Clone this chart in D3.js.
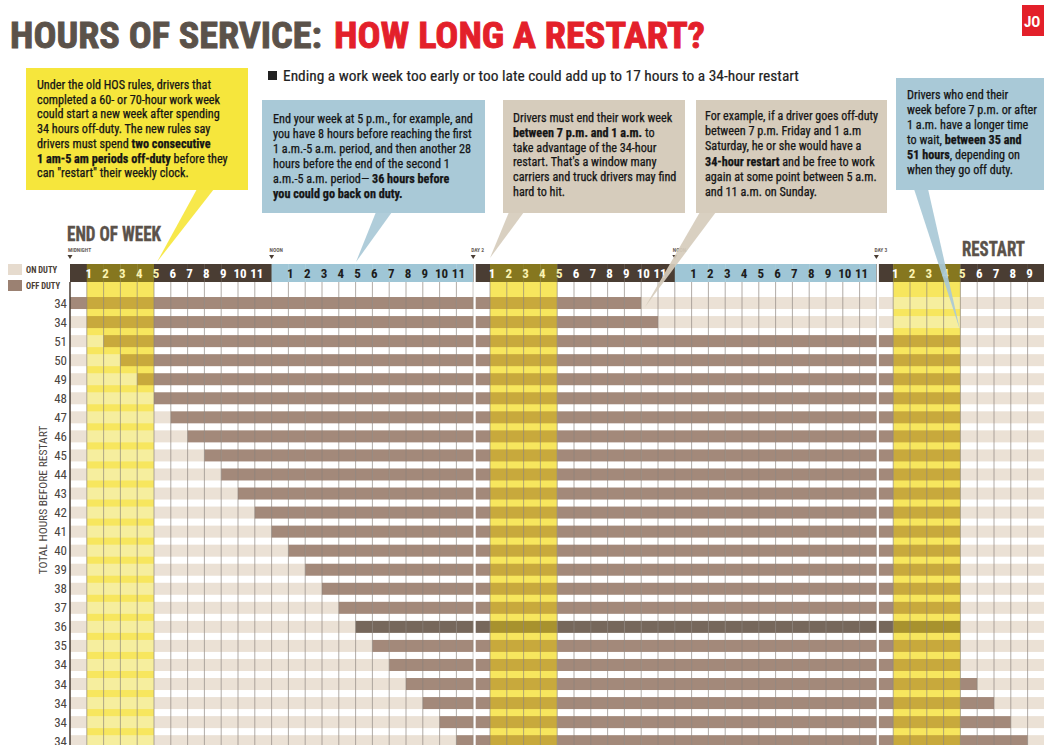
<!DOCTYPE html>
<html>
<head>
<meta charset="utf-8">
<script src="https://cdnjs.cloudflare.com/ajax/libs/d3/7.8.5/d3.min.js"></script>
<style>
  body { margin: 0; background: #fff; }
  svg { display: block; }
  text { font-family: 'Liberation Sans Narrow', 'Roboto Condensed', 'DejaVu Sans Condensed', sans-serif; }
</style>
</head>
<body>
<div id="chart"></div>
<script>
// ---- data ----
const rowHours = [34, 34, 51, 50, 49, 48, 47, 46, 45, 44, 43, 42, 41, 40, 39, 38, 37, 36, 35, 34, 34, 34, 34, 34];
const offDutyStart = [0, 1, 2, 3, 4, 5, 6, 7, 8, 9, 10, 11, 12, 13, 14, 15, 16, 17, 18, 19, 20, 21, 22, 23];
const highlightRow = 17; // the 36-hour example
const restartWindows = [[1, 5], [25, 29], [49, 53]]; // 1 a.m.-5 a.m. periods
const hourColumns = 58;
const dayMarks = [
  {hour: 0, label: "MIDNIGHT"},
  {hour: 12, label: "NOON"},
  {hour: 24, label: "DAY 2"},
  {hour: 36, label: "NOON"},
  {hour: 48, label: "DAY 3"}
];
const callouts = [
  {x: 26, y: 68, w: 222, h: 122, fill: "#f6e63c", tx: 37, ty: 89, lh: 14.7,
   ptr: [[197, 189], [214, 189], [157, 262]],
   lines: ["Under the old HOS rules, drivers that",
           "completed a 60- or 70-hour work week",
           "could start a new week after spending",
           "34 hours off-duty. The new rules say",
           "drivers must spend **two consecutive**",
           "**1 am-5 am periods off-duty** before they",
           "can \"restart\" their weekly clock."]},
  {x: 262, y: 100, w: 223, h: 113, fill: "#a9c9d7", tx: 273, ty: 123, lh: 15,
   ptr: [[376, 212], [392, 212], [356, 262]],
   lines: ["End your week at 5 p.m., for example, and",
           "you have 8 hours before reaching the first",
           "1 a.m.-5 a.m. period, and then another 28",
           "hours before the end of the second 1",
           "a.m.-5 a.m. period\u2014 **36 hours before**",
           "**you could go back on duty.**"]},
  {x: 503, y: 100, w: 182, h: 113, fill: "#d6ccbc", tx: 513, ty: 122, lh: 14.8,
   ptr: [[509, 212], [524, 212], [490, 258]],
   lines: ["Drivers must end their work week",
           "**between 7 p.m. and 1 a.m.** to",
           "take advantage of the 34-hour",
           "restart. That's a window many",
           "carriers and truck drivers may find",
           "hard to hit."]},
  {x: 696, y: 100, w: 191, h: 113, fill: "#d6ccbc", tx: 705, ty: 120, lh: 15.2,
   ptr: [[700, 212], [716, 212], [645, 307]],
   lines: ["For example, if a driver goes off-duty",
           "between 7 p.m. Friday and 1 a.m",
           "Saturday, he or she would have a",
           "**34-hour restart** and be free to work",
           "again at some point between 5 a.m.",
           "and 11 a.m. on Sunday."]},
  {x: 896, y: 78, w: 150, h: 112, fill: "#a9c9d7", tx: 907, ty: 99, lh: 15,
   ptr: [[914, 189], [928, 189], [960, 330]],
   lines: ["Drivers who end their",
           "week before 7 p.m. or after",
           "1 a.m. have a longer time",
           "to wait, **between 35 and**",
           "**51 hours**, depending on",
           "when they go off duty."]}
];

// ---- colours ----
const col = {
  on: "#ebe1d5", onY: "#f6ee9e",
  off: "#a3897a", offY: "#c8a93c",
  hi: "#76675b", hiY: "#a8922e",
  yellowBg: "#f7e65e",
  headDark: "#4a3d33", headOlive: "#86771f", headBlue: "#9fc6d6",
  grid: "#8c847e", text: "#5b524a", red: "#e3202a"
};

const W = 1044, H = 745;
const svg = d3.select("#chart").append("svg").attr("width", W).attr("height", H);

// ---- scales ----
const x = d3.scaleLinear().domain([0, hourColumns]).range([70, 70 + hourColumns * 16.8]);
const y = d3.scaleBand().domain(d3.range(rowHours.length))
  .range([293.5, 293.5 + rowHours.length * 19.05])
  .paddingInner(0.37).paddingOuter(0.185);
const gridTop = 282, gridBottom = H;
const headTop = 264;

const inRestart = c => restartWindows.some(w => c >= w[0] && c < w[1]);

function addLines(g, lines, x0, y0, lh, maxW, size) {
  lines.forEach((line, i) => {
    const t = g.append("text").attr("x", x0).attr("y", y0 + i * lh)
      .attr("font-size", size).attr("fill", "#151515")
      .attr("stroke", "#151515").attr("stroke-width", 0.25);
    line.split("**").forEach((seg, j) => {
      if (seg) t.append("tspan").attr("font-weight", j % 2 ? 700 : 400).text(seg);
    });
    const w = t.node().getComputedTextLength();
    if (w > maxW) t.attr("textLength", maxW).attr("lengthAdjust", "spacingAndGlyphs");
  });
}

// ---- title ----
svg.append("text").attr("x", 10).attr("y", 48).attr("font-size", 37).attr("font-weight", 700)
  .attr("fill", col.text).attr("stroke", col.text).attr("stroke-width", 0.9)
  .attr("textLength", 312).attr("lengthAdjust", "spacingAndGlyphs")
  .text("HOURS OF SERVICE:");
svg.append("text").attr("x", 334).attr("y", 48).attr("font-size", 37).attr("font-weight", 700)
  .attr("fill", col.red).attr("stroke", col.red).attr("stroke-width", 0.9)
  .attr("textLength", 371).attr("lengthAdjust", "spacingAndGlyphs")
  .text("HOW LONG A RESTART?");

// logo corner
svg.append("rect").attr("x", 1022).attr("y", 5).attr("width", 24).attr("height", 31).attr("fill", col.red);
svg.append("text").attr("x", 1024).attr("y", 27).attr("font-size", 15).attr("font-weight", 700)
  .attr("fill", "#fff").text("JO");

// subtitle
svg.append("rect").attr("x", 268).attr("y", 71).attr("width", 9).attr("height", 9).attr("fill", "#222");
const sub = svg.append("text").attr("x", 283).attr("y", 81).attr("font-size", 15.4).attr("fill", "#222")
  .attr("stroke", "#222").attr("stroke-width", 0.2)
  .text("Ending a work week too early or too late could add up to 17 hours to a 34-hour restart");
if (sub.node().getComputedTextLength() > 522) sub.attr("textLength", 522).attr("lengthAdjust", "spacingAndGlyphs");

// ---- grid ----
const grid = svg.append("g");

// yellow 1-5 a.m. columns
grid.selectAll(".ybg").data(restartWindows).join("rect")
  .attr("x", d => x(d[0])).attr("width", d => x(d[1]) - x(d[0]))
  .attr("y", gridTop).attr("height", gridBottom - gridTop)
  .attr("fill", col.yellowBg);

// cells: on duty vs off duty per hour
const cells = [];
rowHours.forEach((hrs, r) => {
  const s = offDutyStart[r], e = s + hrs;
  for (let c = 0; c < hourColumns; c++) {
    cells.push({r, c, off: c >= s && c < e, yel: inRestart(c)});
  }
});
grid.selectAll(".cell").data(cells).join("rect")
  .attr("x", d => x(d.c)).attr("width", d => x(d.c + 1) - x(d.c) + 0.3)
  .attr("y", d => y(d.r)).attr("height", y.bandwidth())
  .attr("fill", d => {
    if (!d.off) return d.yel ? col.onY : col.on;
    if (d.r === highlightRow) return d.yel ? col.hiY : col.hi;
    return d.yel ? col.offY : col.off;
  });

// vertical hour lines
grid.selectAll(".vl").data(d3.range(1, hourColumns)).join("line")
  .attr("x1", d => x(d)).attr("x2", d => x(d))
  .attr("y1", gridTop).attr("y2", gridBottom)
  .attr("stroke", col.grid).attr("stroke-width", 0.9).attr("opacity", 0.75);
grid.append("line").attr("x1", x(0)).attr("x2", x(0)).attr("y1", gridTop).attr("y2", gridBottom)
  .attr("stroke", "#4a3d33").attr("stroke-width", 1.5);

// ---- header band ----
const head = svg.append("g");
head.selectAll(".hc").data(d3.range(hourColumns)).join("rect")
  .attr("x", d => x(d)).attr("width", d => x(d + 1) - x(d) + 0.3)
  .attr("y", headTop).attr("height", gridTop - headTop)
  .attr("fill", d => {
    const h = d % 24;
    if (h >= 12) return col.headBlue;
    return inRestart(d) ? col.headOlive : col.headDark;
  });
head.selectAll(".hl").data(d3.range(1, hourColumns).filter(d => d % 12 !== 0)).join("text")
  .attr("x", d => x(d) + 2).attr("y", 278).attr("text-anchor", "middle")
  .attr("font-size", 13).attr("font-weight", 700)
  .attr("fill", d => (d % 24 > 12 ? "#1d1d1d" : (inRestart(d - 1) ? "#fbf3b0" : "#fff")))
  .text(d => d % 12);

// day breaks (white gap through header and bars)
svg.selectAll(".daygap").data([24, 48]).join("line")
  .attr("x1", d => x(d) + 1.4).attr("x2", d => x(d) + 1.4)
  .attr("y1", headTop).attr("y2", gridBottom)
  .attr("stroke", "#fff").attr("stroke-width", 2.2);

// small markers above header
const marks = svg.append("g");
marks.selectAll("text").data(dayMarks).join("text")
  .attr("x", d => x(d.hour) - 2).attr("y", 252)
  .attr("font-size", 5.5).attr("font-weight", 700).attr("fill", "#6a625b")
  .text(d => d.label);
marks.selectAll("path").data(dayMarks).join("path")
  .attr("d", d => `M${x(d.hour) - 2.5},255 L${x(d.hour) + 2.5},255 L${x(d.hour)},259 Z`)
  .attr("fill", "#4a3d33");

// section labels
svg.append("text").attr("x", 67).attr("y", 241).attr("font-size", 21).attr("font-weight", 700)
  .attr("fill", col.text).attr("stroke", col.text).attr("stroke-width", 0.4)
  .attr("textLength", 94).attr("lengthAdjust", "spacingAndGlyphs").text("END OF WEEK");
svg.append("text").attr("x", 962).attr("y", 256).attr("font-size", 21).attr("font-weight", 700)
  .attr("fill", col.text).attr("stroke", col.text).attr("stroke-width", 0.4)
  .attr("textLength", 63).attr("lengthAdjust", "spacingAndGlyphs").text("RESTART");

// legend
const legend = [{label: "ON DUTY", fill: "#e6dbce"}, {label: "OFF DUTY", fill: "#9b8172"}];
const lg = svg.append("g");
lg.selectAll("rect").data(legend).join("rect")
  .attr("x", 8).attr("y", (d, i) => 264 + i * 16).attr("width", 14).attr("height", 11)
  .attr("fill", d => d.fill);
lg.selectAll("text").data(legend).join("text")
  .attr("x", 26).attr("y", (d, i) => 273 + i * 16)
  .attr("font-size", 8.5).attr("font-weight", 700).attr("fill", "#4a3d33")
  .text(d => d.label);

// row labels
svg.append("g").selectAll("text").data(rowHours).join("text")
  .attr("x", 67).attr("y", (d, i) => y(i) + y.bandwidth() / 2 + 4.5)
  .attr("text-anchor", "end").attr("font-size", 13).attr("fill", "#4a4440")
  .text(d => d);

// axis title
svg.append("text").attr("transform", "translate(47,500) rotate(-90)")
  .attr("text-anchor", "middle").attr("font-size", 11.5).attr("fill", "#4a4440")
  .text("TOTAL HOURS  BEFORE RESTART");

// ---- callouts ----
const cg = svg.append("g");
callouts.forEach(c => {
  cg.append("polygon").attr("points", c.ptr.map(p => p.join(",")).join(" "))
    .attr("fill", c.fill).attr("opacity", 0.92);
  cg.append("rect").attr("x", c.x).attr("y", c.y).attr("width", c.w).attr("height", c.h).attr("fill", c.fill);
  addLines(cg, c.lines, c.tx, c.ty, c.lh, Math.min(c.w - 18, W - c.tx - 4), 12.2);
});
</script>
</body>
</html>
